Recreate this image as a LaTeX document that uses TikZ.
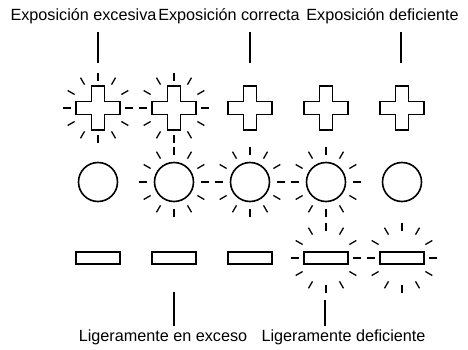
\documentclass[tikz,border=0pt]{standalone}
\usepackage{fontspec}
\setmainfont{Liberation Sans}
\begin{document}
\begin{tikzpicture}[x=1pt,y=-1pt,
  shapeline/.style={line width=1.6pt, line join=miter},
  ray/.style={line width=1.3pt},
  bar/.style={line width=2.6pt},
  lbl/.style={font=\fontsize{16.2}{19}\selectfont, inner sep=0pt, anchor=base},
  disc/.style={circle, draw, shapeline, minimum size=39pt, inner sep=0pt},
  slab/.style={rectangle, draw, shapeline, minimum width=44pt, minimum height=12pt, inner sep=0pt}]
\useasboundingbox (0,0) rectangle (468,350);

% labels
\node[lbl] (t1) at (83.5,21) {Exposición excesiva};
\node[lbl] (t2) at (229,21) {Exposición correcta};
\node[lbl] (t3) at (382.5,21) {Exposición deficiente};
\node[lbl] (b1) at (163,341) {Ligeramente en exceso};
\node[lbl] (b2) at (343.5,341) {Ligeramente deficiente};

% crosses, circles, rectangles
\foreach \i/\x in {1/98,2/174,3/250,4/326,5/402}{
  \coordinate (x\i) at (\x,108);
  \draw[shapeline] (x\i) ++(-6.5,-22) -- ++(13,0) -- ++(0,15.5) -- ++(15.5,0)
     -- ++(0,13) -- ++(-15.5,0) -- ++(0,15.5) -- ++(-13,0) -- ++(0,-15.5)
     -- ++(-15.5,0) -- ++(0,-13) -- ++(15.5,0) -- cycle;
  \node[disc] (c\i) at (\x,182) {};
  \node[slab] (r\i) at (\x,258) {};
}

% glow rays
\foreach \p in {x1,x2,c2,c3,c4,r4,r5}
  \foreach \a in {0,30,...,330}
    \draw[ray] (\p) ++(\a:27) -- ++(\a:8);

% bars
\coordinate (ta1) at (98,32);  \coordinate (tb1) at (98,63);
\coordinate (ta2) at (250,32); \coordinate (tb2) at (250,63);
\coordinate (ta3) at (401,32); \coordinate (tb3) at (401,63);
\coordinate (ba1) at (174,292); \coordinate (bb1) at (174,326);
\coordinate (ba2) at (325,300); \coordinate (bb2) at (325,326);
\draw[bar] (ta1) -- (tb1);
\draw[bar] (ta2) -- (tb2);
\draw[bar] (ta3) -- (tb3);
\draw[bar] (ba1) -- (bb1);
\draw[bar] (ba2) -- (bb2);
\end{tikzpicture}
\end{document}
